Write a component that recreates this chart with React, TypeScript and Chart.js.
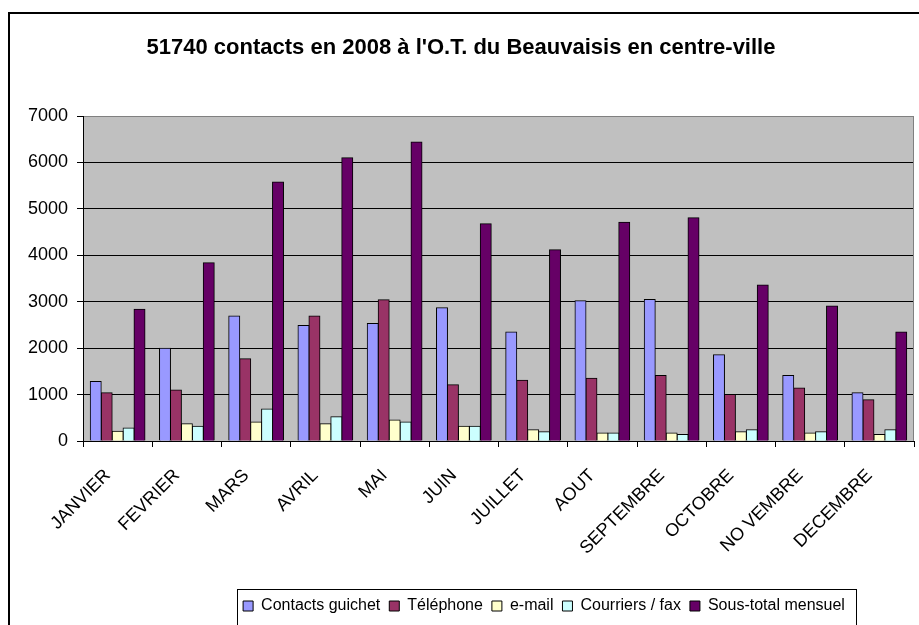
import React, { useEffect, useRef } from "react";
import { Chart, registerables } from "chart.js";

Chart.register(...registerables);

const months = ["JANVIER", "FEVRIER", "MARS", "AVRIL", "MAI", "JUIN", "JUILLET", "AOUT", "SEPTEMBRE", "OCTOBRE", "NO VEMBRE", "DECEMBRE"];
const contactsGuichet = [1280, 2000, 2690, 2490, 2530, 2870, 2350, 3020, 3050, 1860, 1410, 1040];
const telephone = [1040, 1100, 1770, 2690, 3040, 1210, 1310, 1350, 1410, 1000, 1140, 890];
const email = [210, 370, 410, 370, 450, 320, 240, 170, 170, 200, 170, 140];
const courriersFax = [280, 320, 690, 520, 410, 320, 200, 170, 140, 240, 200, 240];
const sousTotal = [2840, 3840, 5580, 6100, 6440, 4680, 4120, 4710, 4810, 3360, 2910, 2350];
const seriesNames = ["Contacts guichet", "Téléphone", "e-mail", "Courriers / fax", "Sous-total mensuel"];
const seriesColors = ["#9999FF", "#993366", "#FFFFCC", "#CCFFFF", "#660066"];
const titleText = "51740 contacts en 2008 à l'O.T. du Beauvaisis en centre-ville";

const FONT = "'Liberation Sans', Arial, sans-serif";

const framePlugin = {
  id: "frame",
  beforeDraw(chart: any) {
    const { ctx, chartArea: a } = chart;
    ctx.save();
    ctx.fillStyle = "#ffffff";
    ctx.fillRect(0, 0, chart.width, chart.height);
    ctx.fillStyle = "#C0C0C0";
    ctx.fillRect(a.left, a.top, a.right - a.left, a.bottom - a.top);
    ctx.restore();
  },
  afterLayout(chart: any) {
    const lg = chart.legend;
    if (lg) {
      lg.left = 218;
      lg.right = 870;
      lg.top = 589;
      lg.bottom = 640;
    }
  },
  afterDraw(chart: any) {
    const { ctx, chartArea: a } = chart;
    ctx.save();
    ctx.strokeStyle = "#808080";
    ctx.lineWidth = 1;
    ctx.beginPath();
    ctx.moveTo(Math.round(a.right) - 0.5, a.top);
    ctx.lineTo(Math.round(a.right) - 0.5, a.bottom);
    ctx.stroke();
    ctx.strokeStyle = "#000";
    ctx.lineWidth = 2;
    ctx.strokeRect(9, 13, 2000, 2000);
    ctx.lineWidth = 1;
    ctx.strokeRect(237.5, 589.5, 619, 100);
    ctx.restore();
  },
};

export default function App() {
  const ref = useRef<HTMLCanvasElement | null>(null);
  useEffect(() => {
    if (!ref.current) return;
    const dataSets = [contactsGuichet, telephone, email, courriersFax, sousTotal];
    const chart = new Chart(ref.current, {
      type: "bar",
      data: {
        labels: months,
        datasets: dataSets.map((d, i) => ({
          label: seriesNames[i],
          data: d,
          backgroundColor: seriesColors[i],
          borderColor: "#000",
          borderWidth: 1,
          inflateAmount: 0.5,
          categoryPercentage: 0.79,
          barPercentage: 1,
        })),
      },
      options: {
        responsive: false,
        animation: false,
        layout: { padding: { left: 8, right: 5, top: 0, bottom: 0 } },
        plugins: {
          title: {
            display: true,
            text: titleText,
            color: "#000",
            font: { family: FONT, size: 22, weight: "bold", lineHeight: 1 },
            padding: { top: 37, bottom: 57 },
          },
          legend: {
            position: "bottom",
            labels: {
              color: "#000",
              font: { family: FONT, size: 16 },
              boxWidth: 10,
              boxHeight: 10,
              padding: 9,
            },
          },
          tooltip: { enabled: false },
        },
        scales: {
          x: {
            afterFit(scale: any) {
              scale.height = 149;
            },
            grid: {
              display: true,
              drawOnChartArea: false,
              drawTicks: true,
              tickLength: 6,
              color: "#000",
              offset: true,
            },
            border: { display: true, color: "#000", width: 1 },
            ticks: {
              color: "#000",
              font: { family: FONT, size: 18 },
              minRotation: 45,
              maxRotation: 45,
              autoSkip: false,
              padding: 18,
              labelOffset: -10,
            },
          },
          y: {
            min: 0,
            max: 7000,
            afterFit(scale: any) {
              scale.width = 75;
            },
            grid: {
              color: (c: any) => (c.tick && c.tick.value === 7000 ? "#808080" : "#000"),
              tickColor: "#000",
              tickLength: 6,
              drawTicks: true,
            },
            border: { display: true, color: "#000", width: 1 },
            ticks: {
              stepSize: 1000,
              color: "#000",
              font: { family: FONT, size: 18 },
              padding: 9,
              callback: (v: any) => String(v),
            },
          },
        },
      },
      plugins: [framePlugin],
    });
    return () => chart.destroy();
  }, []);
  return (
    <div style={{ position: "fixed", left: 0, top: 0, width: 919, height: 625, background: "#fff" }}>
      <canvas ref={ref} width={919} height={625} style={{ display: "block" }} />
    </div>
  );
}
